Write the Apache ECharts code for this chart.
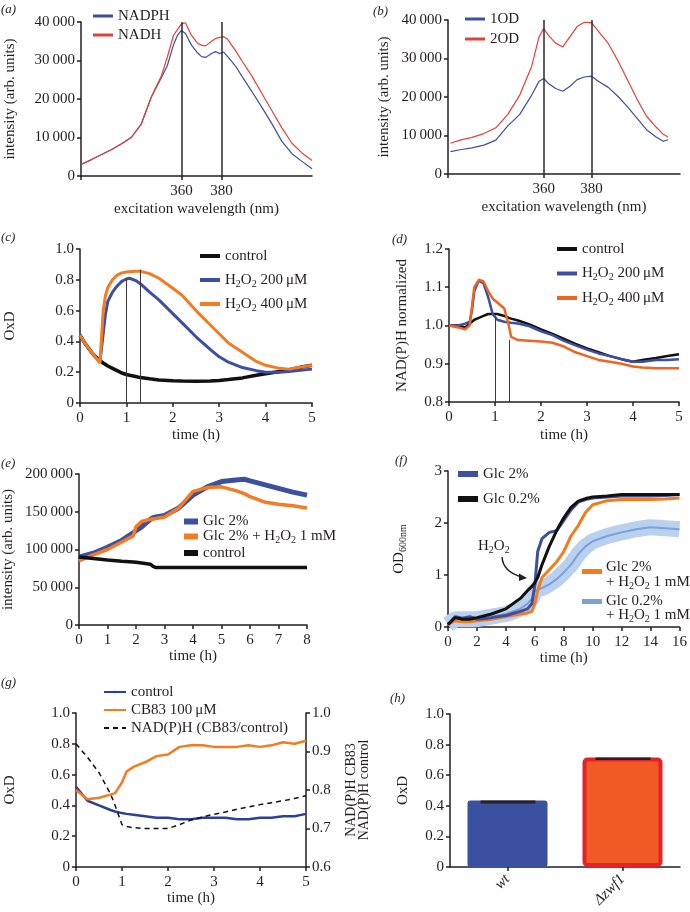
<!DOCTYPE html>
<html><head><meta charset="utf-8">
<script src="https://cdn.jsdelivr.net/npm/echarts@6/dist/echarts.min.js"></script>
<style>html,body{margin:0;padding:0;background:#fff}#c{width:690px;height:912px}</style>
</head><body><div id="c"></div>
<script>
// ---------- DATA ----------
// (a)
const aWave  = [310,315,320,325,330,335,340,345,350,353,356,358,360,362,365,368,370,372,375,377,379,381,383,385,387,390,395,400,405,410,415,420,425];
const aNADPH = [3000,4200,5500,6800,8300,10000,13500,20500,25500,28700,34000,36500,37800,37000,34000,32000,31000,30800,31800,32300,31800,32200,31000,29800,28500,26000,22000,17900,13600,9000,5800,3800,1900];
const aNADH  = [3000,4200,5500,6800,8300,10000,13500,20500,26000,30900,36500,38000,39500,39800,36500,34500,34000,33800,35000,35700,36000,36200,35500,34000,32500,30000,26000,21500,17000,12500,8500,6000,4000];
const aMarks = [360,380];
// (b)
const bWave = [321,325,330,335,340,345,350,355,358,360,362,365,368,371,374,377,380,383,387,391,395,399,403,407,410,412];
const b1OD  = [5800,6300,6800,7500,8800,12500,15500,20500,24000,24800,23500,22200,21500,22800,24500,25200,25400,24000,22500,20200,17500,14500,11500,9600,8500,8900];
const b2OD  = [8000,8800,9500,10500,12000,15500,20500,28000,35500,37800,36000,34000,33000,35700,38300,39400,39300,37000,33900,29500,24500,19500,15000,12200,10300,9600];
const bMarks = [360,380];
// (c)
const cTime = [0,0.1,0.2,0.3,0.43,0.5,0.55,0.6,0.7,0.8,0.9,1.0,1.07,1.2,1.3,1.5,1.7,2.0,2.2,2.5,2.8,3.0,3.2,3.5,3.8,4.0,4.3,4.5,4.8,5.0];
const cCtrl = [0.44,0.39,0.35,0.31,0.275,0.26,0.25,0.24,0.225,0.21,0.195,0.185,0.18,0.172,0.165,0.157,0.15,0.145,0.143,0.142,0.143,0.146,0.152,0.163,0.18,0.19,0.205,0.215,0.235,0.245];
const c200  = [0.44,0.39,0.35,0.31,0.265,0.45,0.58,0.66,0.72,0.76,0.79,0.805,0.81,0.795,0.775,0.72,0.67,0.58,0.52,0.43,0.35,0.30,0.265,0.23,0.21,0.20,0.20,0.205,0.215,0.22];
const c400  = [0.44,0.39,0.35,0.31,0.26,0.60,0.70,0.75,0.80,0.83,0.845,0.85,0.852,0.855,0.855,0.84,0.81,0.745,0.70,0.60,0.51,0.45,0.39,0.33,0.27,0.245,0.225,0.22,0.235,0.245];
const cMarkT = [1.0,1.3];
const cMarkTop = [0.81,0.866];
// (d)
const dTime = [0,0.2,0.35,0.45,0.5,0.55,0.65,0.75,0.85,0.95,1.05,1.2,1.3,1.35,1.5,1.75,2.0,2.25,2.5,2.75,3.0,3.25,3.5,3.75,4.0,4.2,4.5,4.75,5.0];
const dCtrl = [1.0,1.0,0.995,1.005,1.01,1.015,1.02,1.025,1.03,1.03,1.03,1.025,1.02,1.018,1.013,1.003,0.99,0.978,0.965,0.952,0.94,0.93,0.92,0.912,0.905,0.91,0.915,0.92,0.925];
const d200  = [1.0,1.0,1.005,1.01,1.04,1.09,1.118,1.11,1.075,1.03,1.015,1.01,1.008,1.007,1.005,0.998,0.985,0.975,0.96,0.948,0.937,0.927,0.92,0.912,0.905,0.905,0.91,0.91,0.912];
const d400  = [1.0,0.995,0.99,1.0,1.05,1.10,1.12,1.115,1.09,1.07,1.06,1.045,1.0,0.97,0.962,0.96,0.958,0.955,0.945,0.93,0.92,0.91,0.905,0.90,0.893,0.89,0.888,0.888,0.888];
const dMarkT = [1.0,1.3];
const dMarkTop = [1.023,0.963];
// (e)
const eTime = [0,0.5,1,1.5,1.9,2.0,2.2,2.5,2.6,2.7,3,3.5,4,4.5,5,5.5,5.8,6,6.5,7,7.5,8];
const eGlc  = [90000,95000,103000,112000,122000,125000,130000,140000,142000,143000,145000,155000,172000,183000,190000,192000,193000,191000,186000,181000,176000,172000];
const eH2O2 = [85000,93000,100000,110000,118000,130000,137000,140000,140500,141000,143000,155000,177000,182000,183000,178000,174000,170000,163000,160000,158000,155000];
const eCtrl = [90000,88000,86000,84500,83500,83000,82000,80500,77500,76000,76000,76000,76000,76000,76000,76000,76000,76000,76000,76000,76000,76000];
// (f)
const fTime   = [0,0.5,1,1.5,2,3,4,5,5.5,5.8,6,6.2,6.5,7,7.5,8,8.5,9,9.5,10,11,12,13,14,15,16];
const fGlc2   = [0.05,0.2,0.17,0.2,0.15,0.18,0.22,0.3,0.35,0.45,0.8,1.45,1.7,1.82,1.85,2.05,2.25,2.4,2.45,2.48,2.5,2.52,2.52,2.52,2.53,2.55];
const fGlc02  = [0.05,0.18,0.15,0.15,0.18,0.25,0.35,0.55,0.7,0.78,0.85,0.95,1.2,1.55,1.85,2.1,2.3,2.42,2.47,2.5,2.52,2.55,2.55,2.55,2.55,2.55];
const fGlc2H  = [0.05,0.12,0.1,0.1,0.12,0.15,0.2,0.25,0.27,0.3,0.45,0.7,0.95,1.1,1.25,1.45,1.75,1.95,2.2,2.35,2.43,2.45,2.45,2.45,2.46,2.48];
const fGlc02H = [0.05,0.15,0.15,0.15,0.15,0.2,0.25,0.35,0.45,0.55,0.7,0.72,0.75,0.82,0.92,1.05,1.2,1.4,1.55,1.65,1.75,1.82,1.88,1.92,1.9,1.88];
// (g)
const gTime  = [0,0.25,0.5,0.75,0.85,1,1.1,1.25,1.5,1.75,2,2.25,2.5,2.75,3,3.25,3.5,3.75,4,4.25,4.5,4.75,5];
const gCtrl  = [0.52,0.43,0.4,0.37,0.36,0.35,0.345,0.34,0.33,0.32,0.32,0.31,0.31,0.32,0.32,0.32,0.31,0.31,0.32,0.32,0.33,0.33,0.345];
const gCB83  = [0.5,0.44,0.45,0.47,0.48,0.55,0.62,0.65,0.68,0.72,0.73,0.78,0.79,0.79,0.78,0.78,0.78,0.79,0.78,0.79,0.81,0.8,0.82];
const gRatio = [0.92,0.885,0.845,0.79,0.76,0.71,0.705,0.702,0.7,0.7,0.7,0.71,0.722,0.73,0.737,0.743,0.75,0.756,0.762,0.767,0.772,0.778,0.785];
// (h)
const hCats = ['wt','Δzwf1'];
const hOxD  = [0.435,0.716];
const hErr  = [0.01,0.008];

// ---------- STYLE ----------
const FONT = 'Liberation Serif';
const FS = 15;
const INK = '#231f20';
const BLUE = '#3c4fa0', RED = '#e4403a', ORANGE = '#f47b20', BLACK = '#111111', LBLUE = '#b9d0ee', LBLUE2 = '#7aa1d9';
const SUB = { s: { fontSize: 10, padding: [8,0,0,0], fontFamily: FONT, color: INK, fontWeight: 'normal' } };

function merge(a, b) {
  const r = Object.assign({}, a);
  for (const k in b) {
    const v = b[k];
    if (v && typeof v === 'object' && !Array.isArray(v) && r[k] && typeof r[k] === 'object' && !Array.isArray(r[k])) r[k] = merge(r[k], v);
    else r[k] = v;
  }
  return r;
}
const fmtK = v => v === 0 ? '0' : String(v).replace(/\B(?=(\d{3})+(?!\d))/g, '\u2009');
const fmt1 = v => v === 0 ? '0' : v.toFixed(1);

const baseAxis = {
  type: 'value', nameLocation: 'middle',
  nameTextStyle: { fontSize: FS, color: INK, fontFamily: FONT, fontWeight: 'normal' },
  axisLine: { show: true, onZero: false, lineStyle: { color: INK, width: 1.5 } },
  axisTick: { show: true, length: 4, lineStyle: { color: INK, width: 1.5 } },
  axisLabel: { fontSize: FS, color: INK, fontFamily: FONT, fontWeight: 'normal' },
  splitLine: { show: false }
};
const X = (gi, o) => merge(merge(baseAxis, { gridIndex: gi, axisLabel: { margin: 8 } }), o);
const Y = (gi, o) => merge(merge(baseAxis, { gridIndex: gi, axisLabel: { margin: 6 } }), o);

const grids = [
  { left: 81, top: 22, width: 231, height: 154 },   // a
  { left: 448, top: 20, width: 232, height: 154 },  // b
  { left: 80, top: 249, width: 232, height: 154 },  // c
  { left: 449, top: 249, width: 230, height: 153 }, // d
  { left: 79, top: 474, width: 228, height: 151 },  // e
  { left: 448, top: 471, width: 234, height: 156 }, // f
  { left: 76, top: 713, width: 230, height: 154 },  // g
  { left: 450, top: 714, width: 230, height: 153 }  // h
];

const xAxes = [
  X(0, { min: 310, max: 425, name: 'excitation wavelength (nm)', nameGap: 26, axisLabel: { customValues: aMarks }, axisTick: { customValues: [310].concat(aMarks) } }),
  X(1, { min: 320, max: 417, name: 'excitation wavelength (nm)', nameGap: 26, axisLabel: { customValues: bMarks }, axisTick: { customValues: [320].concat(bMarks) } }),
  X(2, { min: 0, max: 5, interval: 1, name: 'time (h)', nameGap: 25 }),
  X(3, { min: 0, max: 5, interval: 1, name: 'time (h)', nameGap: 26 }),
  X(4, { min: 0, max: 8, interval: 1, name: 'time (h)', nameGap: 24 }),
  X(5, { min: 0, max: 16, interval: 2, name: 'time (h)', nameGap: 23 }),
  X(6, { min: 0, max: 5, interval: 1, name: 'time (h)', nameGap: 23 }),
  X(7, { type: 'category', data: hCats, axisTick: { alignWithLabel: true }, axisLabel: { rotate: 45, fontStyle: 'italic', margin: 10 } })
];
const yAxes = [
  Y(0, { min: 0, max: 40000, interval: 10000, name: 'intensity (arb. units)', nameGap: 63, axisLabel: { formatter: fmtK } }),
  Y(1, { min: 0, max: 40000, interval: 10000, name: 'intensity (arb. units)', nameGap: 56, axisLabel: { formatter: fmtK } }),
  Y(2, { min: 0, max: 1, interval: 0.2, name: 'OxD', nameGap: 62, axisLabel: { formatter: fmt1 } }),
  Y(3, { min: 0.8, max: 1.2, interval: 0.1, name: 'NAD(P)H normalized', nameGap: 39, axisLabel: { formatter: fmt1 } }),
  Y(4, { min: 0, max: 200000, interval: 50000, name: 'intensity (arb. units)', nameGap: 63, axisLabel: { formatter: fmtK } }),
  Y(5, { min: 0, max: 3, interval: 1, name: 'OD{s|600nm}', nameGap: 40, nameTextStyle: { rich: SUB } }),
  Y(6, { min: 0, max: 1, interval: 0.2, name: 'OxD', nameGap: 58, axisLabel: { formatter: fmt1 } }),
  Y(6, { min: 0.6, max: 1.0, interval: 0.1, position: 'right', name: 'NAD(P)H CB83\nNAD(P)H control', nameRotate: 90, nameGap: 39, nameTextStyle: { lineHeight: 13, fontSize: 14 }, axisLabel: { formatter: fmt1 } }),
  Y(7, { min: 0, max: 1, interval: 0.2, name: 'OxD', nameGap: 39, axisLabel: { formatter: fmt1 } })
];

function line(name, xi, yi, xs, ys, color, width, extra) {
  return merge({
    type: 'line', name, xAxisIndex: xi, yAxisIndex: yi,
    data: xs.map((x, i) => [x, ys[i]]), symbol: 'none', silent: true,
    lineStyle: { color, width }, itemStyle: { color }
  }, extra || {});
}
function vMarks(ts, tops, y0) {
  return { markLine: { silent: true, symbol: ['none', 'none'], label: { show: false }, lineStyle: { color: '#3a3a3a', width: 1, type: 'solid' },
    data: ts.map((t, i) => [{ coord: [t, y0] }, { coord: [t, tops[i]] }]) } };
}
const fullMarks = xs => ({ markLine: { silent: true, symbol: ['none', 'none'], label: { show: false }, lineStyle: { color: '#2a2a2a', width: 1.5, type: 'solid' }, data: xs.map(x => ({ xAxis: x })) } });

const series = [
  line('a_NADPH', 0, 0, aWave, aNADPH, BLUE, 1.2),
  line('a_NADH', 0, 0, aWave, aNADH, RED, 1.2, fullMarks(aMarks)),
  line('b_1', 1, 1, bWave, b1OD, BLUE, 1.2),
  line('b_2', 1, 1, bWave, b2OD, RED, 1.2, fullMarks(bMarks)),
  line('c_ctrl', 2, 2, cTime, cCtrl, BLACK, 3.5),
  line('c_200', 2, 2, cTime, c200, BLUE, 3),
  line('c_400', 2, 2, cTime, c400, ORANGE, 3, vMarks(cMarkT, cMarkTop, 0)),
  line('d_ctrl', 3, 3, dTime, dCtrl, BLACK, 2.5),
  line('d_200', 3, 3, dTime, d200, BLUE, 2.5),
  line('d_400', 3, 3, dTime, d400, '#f26322', 2.5, vMarks(dMarkT, dMarkTop, 0.8)),
  line('e_glc', 4, 4, eTime, eGlc, BLUE, 5),
  line('e_h2o2', 4, 4, eTime, eH2O2, ORANGE, 3.5),
  line('e_ctrl', 4, 4, eTime, eCtrl, BLACK, 3.5),
  line('f_band', 5, 5, fTime, fGlc02H, LBLUE, 16),
  line('f_glc02h', 5, 5, fTime, fGlc02H, LBLUE2, 2),
  line('f_glc2h', 5, 5, fTime, fGlc2H, ORANGE, 3),
  line('f_glc2', 5, 5, fTime, fGlc2, BLUE, 3),
  line('f_glc02', 5, 5, fTime, fGlc02, BLACK, 3),
  line('g_ctrl', 6, 6, gTime, gCtrl, '#2b3f9b', 2.5),
  line('g_cb', 6, 6, gTime, gCB83, ORANGE, 2.5),
  line('g_ratio', 6, 7, gTime, gRatio, BLACK, 1.5, { lineStyle: { type: [5, 4] } }),
  {
    type: 'bar', xAxisIndex: 7, yAxisIndex: 8, barWidth: 80, silent: true,
    data: hOxD.map((v, i) => ({ value: v, itemStyle: i === 0
      ? { color: '#3a50a0', borderRadius: 3 }
      : { color: '#f15a24', borderColor: '#e62129', borderWidth: 4, borderRadius: 3 } }))
  },
  {
    type: 'custom', xAxisIndex: 7, yAxisIndex: 8, silent: true, z: 5,
    data: hOxD.map((v, i) => [i, v, hErr[i]]),
    renderItem: function (params, api) {
      const p1 = api.coord([api.value(0), api.value(1)]);
      const p2 = api.coord([api.value(0), api.value(1) - 2 * api.value(2)]);
      return { type: 'rect', shape: { x: p1[0] - 27, y: p1[1], width: 55, height: p2[1] - p1[1] }, style: { fill: '#2a1f22' } };
    }
  }
];

const LEG = {
  a_NADPH: 'NADPH', a_NADH: 'NADH', b_1: '1OD', b_2: '2OD',
  c_ctrl: 'control', c_200: 'H{s|2}O{s|2} 200\u2009μM', c_400: 'H{s|2}O{s|2} 400\u2009μM',
  d_ctrl: 'control', d_200: 'H{s|2}O{s|2} 200\u2009μM', d_400: 'H{s|2}O{s|2} 400\u2009μM',
  e_glc: 'Glc 2%', e_h2o2: 'Glc 2% + H{s|2}O{s|2} 1 mM', e_ctrl: 'control',
  f_glc2: 'Glc 2%', f_glc02: 'Glc 0.2%',
  g_ctrl: 'control', g_cb: 'CB83 100\u2009μM', g_ratio: 'NAD(P)H (CB83/control)'
};
function leg(names, left, top, o) {
  return merge({
    data: names, left, top, orient: 'vertical', selectedMode: false, padding: 0,
    icon: 'rect', itemWidth: 20, itemHeight: 3, itemGap: 3,
    formatter: n => LEG[n],
    textStyle: { fontSize: FS, color: INK, fontFamily: FONT, fontWeight: 'normal', lineHeight: 16, rich: SUB }
  }, o || {});
}
const legends = [
  leg(['a_NADPH', 'a_NADH'], 93, 8, { itemGap: 3 }),
  leg(['b_1', 'b_2'], 465, 11, { itemGap: 4 }),
  leg(['c_ctrl', 'c_200', 'c_400'], 200, 247, { itemHeight: 4, itemGap: 6, textStyle: { lineHeight: 18 } }),
  leg(['d_ctrl', 'd_200', 'd_400'], 557, 240, { itemHeight: 4, itemGap: 6.5, textStyle: { lineHeight: 18 } }),
  leg(['e_glc', 'e_h2o2', 'e_ctrl'], 184, 514, { itemWidth: 14, itemHeight: 6, itemGap: 0, textStyle: { lineHeight: 15 } }),
  leg(['f_glc2', 'f_glc02'], 458, 466, { itemHeight: 6, itemGap: 9 }),
  leg(['g_ctrl', 'g_cb', 'g_ratio'], 103, 684, { icon: null, itemWidth: 22, itemGap: 2 })
];

const T = (x, y, text, o) => merge({ type: 'text', x, y, silent: true,
  style: { text, fontSize: FS, fontFamily: FONT, fill: INK, verticalAlign: 'middle', rich: SUB } }, o || {});
const panelLab = (x, y, t) => T(x, y, t, { style: { fontStyle: 'italic', fontSize: 13, verticalAlign: 'top' } });

const graphic = [
  panelLab(1, 3, '(a)'), panelLab(373, 5, '(b)'), panelLab(1, 231, '(c)'), panelLab(392, 233, '(d)'),
  panelLab(1, 457, '(e)'), panelLab(395, 454, '(f)'), panelLab(1, 676, '(g)'), panelLab(390, 692, '(h)'),
  // panel f lower legend
  { type: 'rect', silent: true, shape: { x: 582, y: 569, width: 20, height: 5 }, style: { fill: ORANGE } },
  T(606, 567, 'Glc 2%'), T(606, 582, '+ H{s|2}O{s|2} 1 mM'),
  { type: 'rect', silent: true, shape: { x: 582, y: 599, width: 20, height: 5 }, style: { fill: LBLUE2 } },
  T(606, 601.5, 'Glc 0.2%'), T(606, 615, '+ H{s|2}O{s|2} 1 mM'),
  // H2O2 annotation in f
  T(478, 546, 'H{s|2}O{s|2}'),
  { type: 'bezierCurve', silent: true, shape: { x1: 502, y1: 557, cpx1: 503, cpy1: 572, x2: 522, y2: 577 }, style: { stroke: INK, lineWidth: 1.5, fill: null } },
  { type: 'polygon', silent: true, shape: { points: [[527, 578], [519, 573.5], [519, 581]] }, style: { fill: INK } }
];

const chart = echarts.init(document.getElementById('c'), null, { renderer: 'canvas' });
chart.setOption({
  animation: false,
  backgroundColor: '#fff',
  textStyle: { fontFamily: FONT },
  grid: grids,
  xAxis: xAxes,
  yAxis: yAxes,
  legend: legends,
  series,
  graphic
});
</script></body></html>
